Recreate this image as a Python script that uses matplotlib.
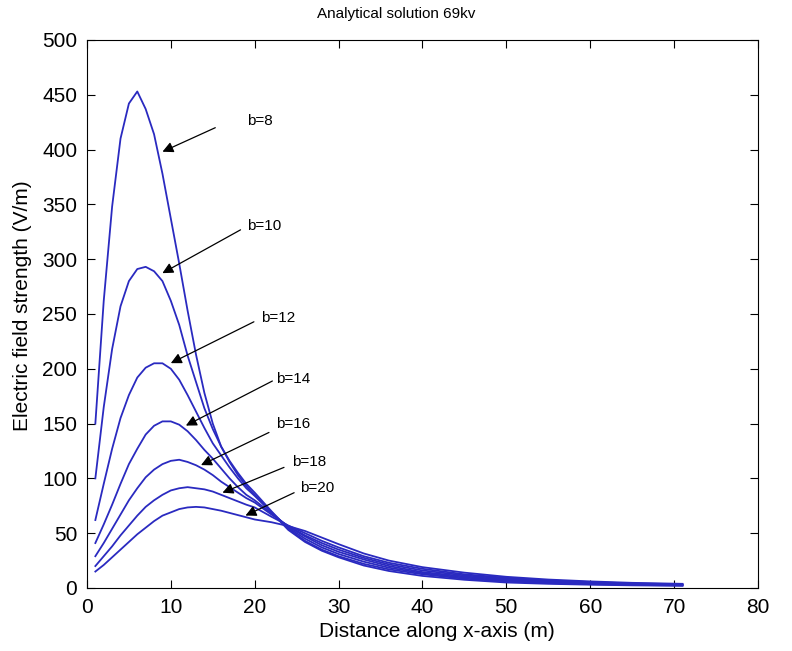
import matplotlib
matplotlib.use('Agg')
import matplotlib.pyplot as plt

plt.rcParams['font.family'] = ['Liberation Sans', 'DejaVu Sans']

# distance along x-axis (m)
x = [1, 2, 3, 4, 5, 6, 7, 8, 9, 10, 11, 12, 13, 14, 15, 16, 17, 18, 19, 20,
     22, 24, 26, 28, 30, 33, 36, 40, 45, 50, 55, 60, 65, 71]

# electric field strength (V/m)
e_b8 = [150, 262, 348, 410, 442, 453, 437, 414, 378, 337, 296, 253, 213, 178, 150, 129, 115, 103, 93, 85,
        69, 53, 42, 34, 28, 20.5, 15.5, 11, 7.5, 5, 3.8, 3, 2.4, 2]
e_b10 = [100, 165, 218, 257, 280, 291, 293, 289, 280, 262, 240, 212, 188, 164, 145, 129, 116, 105, 95, 87,
         70, 54, 43, 35, 29, 22, 17, 12.5, 8.5, 6, 4.5, 3.5, 2.8, 2.3]
e_b12 = [62, 95, 127, 155, 176, 192, 201, 205, 205, 200, 190, 176, 161, 146, 132, 121, 110, 100, 91, 84,
         69, 55, 45, 37, 31, 24, 18.5, 13.5, 9.5, 6.8, 5.1, 4, 3.2, 2.6]
e_b14 = [41, 58, 76, 95, 113, 127, 140, 148, 152, 152, 149, 143, 135, 126, 118, 109, 100, 92, 85, 80,
         68, 56, 47, 39, 33, 26, 20, 14.5, 10.5, 7.6, 5.7, 4.4, 3.5, 2.8]
e_b16 = [29, 41, 54, 67, 80, 91, 101, 108, 113, 116, 117, 115, 112, 108, 103, 97, 92, 87, 82, 78,
         67, 56.5, 48, 41, 35, 27.5, 21.5, 16, 11.5, 8.5, 6.3, 4.9, 3.8, 3.1]
e_b18 = [20, 29, 38, 48, 57, 66, 74, 80, 85, 89, 91, 92, 91, 90, 88, 85, 82, 79, 76, 73.5,
         65, 57, 50, 43, 37, 29, 23, 17.5, 12.5, 9.3, 7, 5.4, 4.2, 3.4]
e_b20 = [15, 21, 28, 35, 42, 49, 55, 61, 66, 69, 72, 73.5, 74, 73.5, 72, 70.5, 68.5, 66.5, 64.5, 62.5,
         60, 56.5, 52, 46, 40, 31.5, 25, 19, 14, 10.2, 7.7, 6, 4.7, 3.8]

curves = [e_b8, e_b10, e_b12, e_b14, e_b16, e_b18, e_b20]
labels = ['b=8', 'b=10', 'b=12', 'b=14', 'b=16', 'b=18', 'b=20']
# arrow heads (on the curve), arrow tails and label anchors in data units
heads = [(8.7, 397), (8.7, 286), (9.7, 204), (11.5, 147), (13.3, 111), (15.85, 86), (18.6, 65)]
tails = [(15.6, 421), (18.6, 328), (20.2, 244), (22.4, 190), (22.0, 143), (23.8, 111), (25.0, 88)]
texts = [(19.1, 426), (19.1, 330), (20.8, 246), (22.6, 191), (22.6, 150), (24.4, 115), (25.4, 91)]

fig = plt.figure(figsize=(7.92, 6.51), dpi=100)
ax = fig.add_axes([0.1098, 0.0968, 0.8472, 0.8418])

for e in curves:
    ax.plot(x, e, color='#2a2ac0', linewidth=1.3)

for lab, h, t, p in zip(labels, heads, tails, texts):
    ax.annotate('', xy=h, xytext=t,
                arrowprops=dict(arrowstyle='-|>', color='k', lw=0.9, mutation_scale=16))
    ax.text(p[0], p[1], lab, fontsize=11, ha='left', va='center')

ax.set_xlim(0, 80)
ax.set_ylim(0, 500)
ax.set_xticks(range(0, 81, 10))
ax.set_yticks(range(0, 501, 50))
ax.tick_params(direction='in', top=True, right=True, labelsize=15, length=6, width=0.8, pad=7)
fig.text(0.5, 0.978, 'Analytical solution 69kv', fontsize=11, ha='center', va='center')
ax.set_xlabel('Distance along x-axis (m)', fontsize=15)
ax.set_ylabel('Electric field strength (V/m)', fontsize=15)
ax.xaxis.set_label_coords(0.522, -0.062)
ax.yaxis.set_label_coords(-0.082, 0.515)

fig.savefig('out.png', dpi=100)
